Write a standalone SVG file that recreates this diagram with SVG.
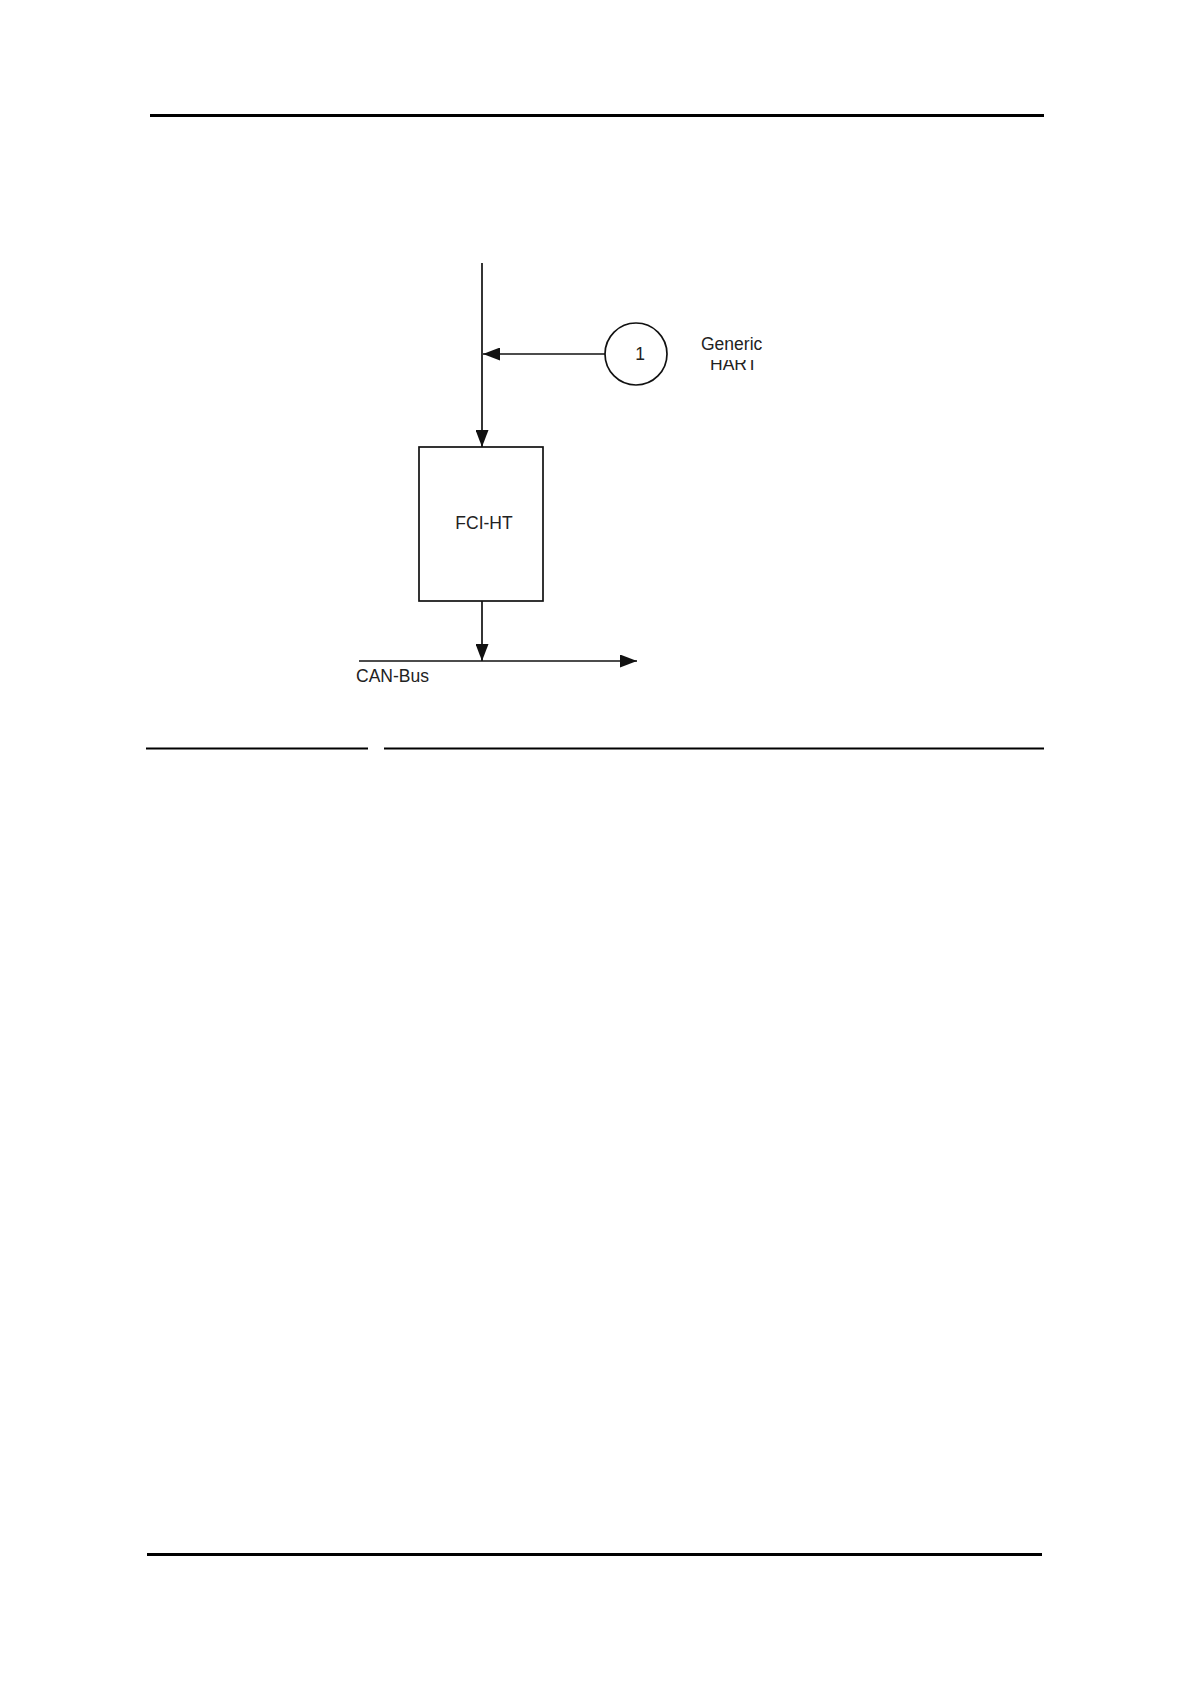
<svg xmlns="http://www.w3.org/2000/svg" width="1190" height="1684" viewBox="0 0 1190 1684">
<style>
.rule{stroke:#000;fill:none}
.ln{stroke:#111;stroke-width:1.7;fill:none}
.shape{stroke:#111;stroke-width:1.7;fill:#fff}
.t{font-family:"Liberation Sans",Arial,sans-serif;font-size:17.5px;fill:#222}
</style>
<defs>
<marker id="ah" viewBox="0 0 17 13" refX="17" refY="6.5" markerWidth="17" markerHeight="13" markerUnits="userSpaceOnUse" orient="auto">
<path d="M0,0 L17,6.5 L0,13 Z" fill="#111"/>
</marker>
<clipPath id="hartclip"><rect x="690" y="360" width="100" height="20"/></clipPath>
</defs>
<rect width="1190" height="1684" fill="#fff"/>
<g id="page-rules">
<line class="rule" x1="150" y1="115.5" x2="1044" y2="115.5" stroke-width="3"/>
<line class="rule" x1="146" y1="748.5" x2="368" y2="748.5" stroke-width="1.8"/>
<line class="rule" x1="384" y1="748.5" x2="1044" y2="748.5" stroke-width="1.8"/>
<line class="rule" x1="147" y1="1554.5" x2="1042" y2="1554.5" stroke-width="3"/>
</g>
<g id="connectors">
<line class="ln" x1="482" y1="263" x2="482" y2="447" marker-end="url(#ah)"/>
<line class="ln" x1="605" y1="354" x2="483" y2="354" marker-end="url(#ah)"/>
<line class="ln" x1="482" y1="601" x2="482" y2="661" marker-end="url(#ah)"/>
<line class="ln" x1="359" y1="661" x2="637" y2="661" marker-end="url(#ah)"/>
</g>
<g id="node-fci-ht">
<rect class="shape" x="419" y="447" width="124" height="154"/>
<text class="t" x="484" y="529" text-anchor="middle">FCI-HT</text>
</g>
<g id="node-1">
<circle class="shape" cx="636" cy="354" r="31"/>
<text class="t" x="640" y="360" text-anchor="middle">1</text>
</g>
<g id="label-generic-hart">
<text class="t" x="701" y="350">Generic</text>
<text class="t" x="710" y="370" clip-path="url(#hartclip)">HART</text>
</g>
<g id="label-can-bus">
<text class="t" x="356" y="682">CAN-Bus</text>
</g>
</svg>
